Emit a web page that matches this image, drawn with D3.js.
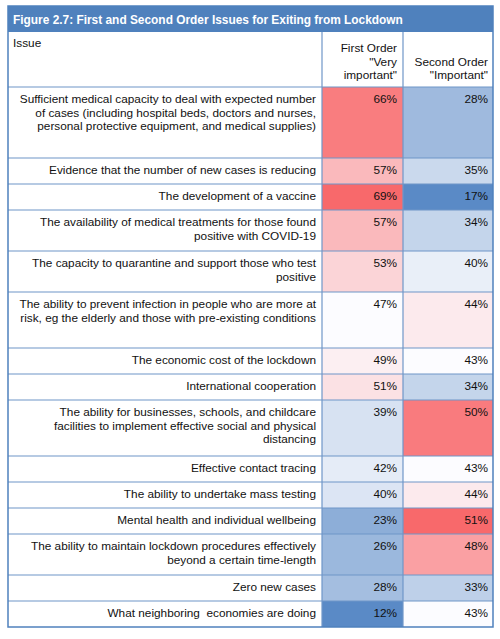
<!DOCTYPE html>
<html>
<head>
<meta charset="utf-8">
<script src="https://cdn.jsdelivr.net/npm/d3@7"></script>
<style>
  html, body { margin: 0; padding: 0; background: #ffffff; }
  svg { display: block; }
  text { font-family: "Liberation Sans", Arial, sans-serif; white-space: pre; }
</style>
</head>
<body>
<svg id="chart" width="500" height="639"></svg>
<script>
const title = "Figure 2.7: First and Second Order Issues for Exiting from Lockdown";
const headerIssue = "Issue";
const headerFirst = ["First Order", "\"Very", "important\""];
const headerSecond = ["Second Order", "\"Important\""];

const issues = [
  "Sufficient medical capacity to deal with expected number\nof cases (including hospital beds, doctors and nurses,\npersonal protective equipment, and medical supplies)\n",
  "Evidence that the number of new cases is reducing",
  "The development of a vaccine",
  "The availability of medical treatments for those found\npositive with COVID-19",
  "The capacity to quarantine and support those who test\npositive",
  "The ability to prevent infection in people who are more at\nrisk, eg the elderly and those with pre-existing conditions\n",
  "The economic cost of the lockdown",
  "International cooperation",
  "The ability for businesses, schools, and childcare\nfacilities to implement effective social and physical\ndistancing",
  "Effective contact tracing",
  "The ability to undertake mass testing",
  "Mental health and individual wellbeing",
  "The ability to maintain lockdown procedures effectively\nbeyond a certain time-length",
  "Zero new cases",
  "What neighboring  economies are doing"
];
const firstOrder  = [66, 57, 69, 57, 53, 47, 49, 51, 39, 42, 40, 23, 26, 28, 12];
const secondOrder = [28, 35, 17, 34, 40, 44, 43, 34, 50, 43, 44, 51, 48, 33, 43];

const svg = d3.select("#chart");
const L = 8, R = 493, C1 = 322, C2 = 403;
const titleTop = 6, titleH = 26;
const headTop = titleTop + titleH, headH = 55;
const lineH = 15, pad = 11;
const fs = 11.8;
const border = "#6f96c8";

const rows = issues.map((s, i) => ({
  lines: s.split("\n"),
  first: firstOrder[i],
  second: secondOrder[i]
}));
let y = headTop + headH;
rows.forEach(r => { r.y = y; r.h = pad + lineH * r.lines.length; y += r.h; });
const bottom = y;

function colorScale(vals) {
  return d3.scaleLinear()
    .domain([d3.min(vals), d3.median(vals), d3.max(vals)])
    .range(["#5A8AC6", "#FCFCFF", "#F8696B"])
    .interpolate(d3.interpolateRgb);
}
const c1 = colorScale(firstOrder);
const c2 = colorScale(secondOrder);

svg.append("rect").attr("x", L).attr("y", titleTop).attr("width", R - L).attr("height", titleH)
  .attr("fill", "#4f81bd");
svg.append("text").attr("x", L + 5).attr("y", titleTop + 18)
  .attr("fill", "#ffffff").attr("font-weight", "bold").attr("font-size", 11.9)
  .text(title);

svg.append("text").attr("x", L + 5).attr("y", headTop + 15).attr("font-size", fs).attr("fill", "#111")
  .text(headerIssue);
headerFirst.forEach((t, i) => {
  svg.append("text").attr("x", C2 - 6).attr("y", headTop + 20 + i * 13.5)
    .attr("text-anchor", "end").attr("font-size", fs).attr("fill", "#111").text(t);
});
headerSecond.forEach((t, i) => {
  svg.append("text").attr("x", R - 5).attr("y", headTop + 33.5 + i * 13.5)
    .attr("text-anchor", "end").attr("font-size", fs).attr("fill", "#111").text(t);
});

const g = svg.append("g");
const rg = g.selectAll("g.row").data(rows).join("g").attr("class", "row");
rg.append("rect").attr("x", C1).attr("y", d => d.y).attr("width", C2 - C1).attr("height", d => d.h)
  .attr("fill", d => c1(d.first));
rg.append("rect").attr("x", C2).attr("y", d => d.y).attr("width", R - C2).attr("height", d => d.h)
  .attr("fill", d => c2(d.second));
rg.each(function(d) {
  const sel = d3.select(this);
  d.lines.forEach((t, i) => {
    if (!t) return;
    sel.append("text").attr("x", C1 - 6).attr("y", d.y + 16 + i * 13.7)
      .attr("text-anchor", "end").attr("font-size", fs).attr("fill", "#111").text(t);
  });
});
rg.append("text").attr("x", C2 - 6).attr("y", d => d.y + 16)
  .attr("text-anchor", "end").attr("font-size", fs).attr("fill", "#111").text(d => d.first + "%");
rg.append("text").attr("x", R - 5).attr("y", d => d.y + 16)
  .attr("text-anchor", "end").attr("font-size", fs).attr("fill", "#111").text(d => d.second + "%");

rows.forEach(r => {
  svg.append("line").attr("x1", L).attr("x2", R).attr("y1", r.y).attr("y2", r.y)
    .attr("stroke", border).attr("stroke-width", 1.2);
});
[C1, C2].forEach(x => {
  svg.append("line").attr("x1", x).attr("x2", x).attr("y1", headTop).attr("y2", bottom)
    .attr("stroke", border).attr("stroke-width", 1.2);
});
svg.append("rect").attr("x", L).attr("y", titleTop).attr("width", R - L).attr("height", bottom - titleTop)
  .attr("fill", "none").attr("stroke", "#4f81bd").attr("stroke-width", 1.5);
</script>
</body>
</html>
